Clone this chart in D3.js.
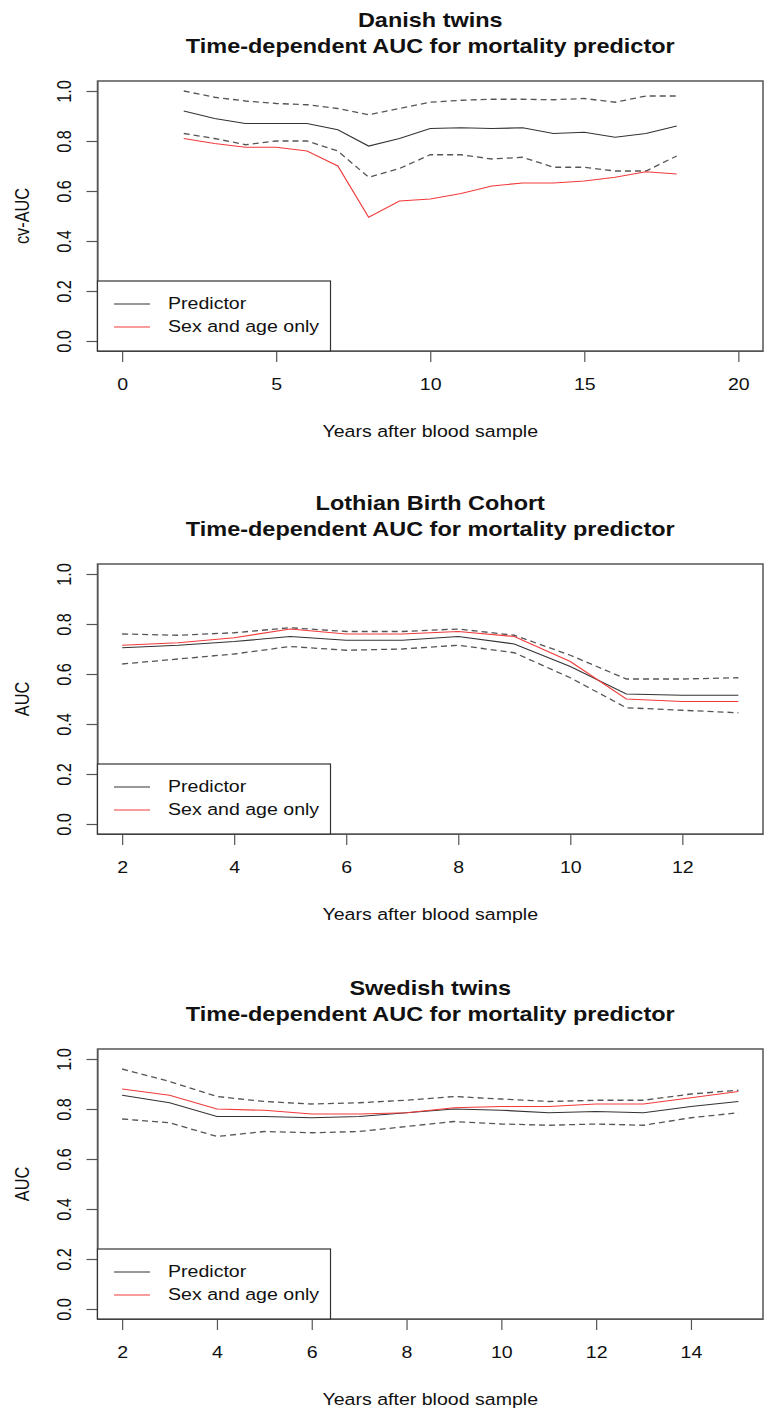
<!DOCTYPE html>
<html>
<head>
<meta charset="utf-8">
<script src="https://cdn.jsdelivr.net/npm/d3@7/dist/d3.min.js"></script>
<style>
  html, body { margin: 0; padding: 0; background: #fff; }
  svg { display: block; }
  text { font-family: "Liberation Sans", Arial, Helvetica, sans-serif; fill: #111; }
</style>
</head>
<body>
<svg id="chart" width="773" height="1418"></svg>
<script>
// ---------------- DATA ----------------
const seriesNames = ["Predictor", "Sex and age only"];
const yTicks = [0, 0.2, 0.4, 0.6, 0.8, 1.0];

// Danish twins
const danishTitle = ["Danish twins", "Time-dependent AUC for mortality predictor"];
const danishYLabel = "cv-AUC";
const danishXLim = [0, 20];
const danishXTicks = [0, 5, 10, 15, 20];
const danishYears = [2, 3, 4, 5, 6, 7, 8, 9, 10, 11, 12, 13, 14, 15, 16, 17, 18];
const danishPred  = [0.92, 0.89, 0.87, 0.87, 0.87, 0.845, 0.78, 0.81, 0.85, 0.853, 0.85, 0.853, 0.83, 0.835, 0.815, 0.83, 0.86];
const danishUpper = [1.00, 0.975, 0.96, 0.95, 0.945, 0.93, 0.905, 0.93, 0.955, 0.963, 0.967, 0.967, 0.965, 0.97, 0.955, 0.98, 0.98];
const danishLower = [0.83, 0.81, 0.785, 0.80, 0.80, 0.76, 0.655, 0.69, 0.745, 0.745, 0.728, 0.735, 0.695, 0.695, 0.68, 0.68, 0.74];
const danishSexAge = [0.81, 0.79, 0.775, 0.775, 0.76, 0.70, 0.495, 0.56, 0.568, 0.59, 0.62, 0.632, 0.632, 0.64, 0.655, 0.677, 0.668];

// Lothian Birth Cohort
const lothianTitle = ["Lothian Birth Cohort", "Time-dependent AUC for mortality predictor"];
const lothianYLabel = "AUC";
const lothianXLim = [2, 13];
const lothianXTicks = [2, 4, 6, 8, 10, 12];
const lothianYears = [2, 3, 4, 5, 6, 7, 8, 9, 10, 11, 12, 13];
const lothianPred  = [0.705, 0.715, 0.73, 0.75, 0.735, 0.735, 0.75, 0.72, 0.63, 0.52, 0.515, 0.515];
const lothianUpper = [0.76, 0.755, 0.765, 0.785, 0.77, 0.77, 0.78, 0.755, 0.675, 0.58, 0.58, 0.585];
const lothianLower = [0.64, 0.66, 0.68, 0.71, 0.695, 0.70, 0.715, 0.685, 0.585, 0.465, 0.455, 0.445];
const lothianSexAge = [0.715, 0.725, 0.745, 0.78, 0.76, 0.76, 0.77, 0.75, 0.65, 0.50, 0.49, 0.49];

// Swedish twins
const swedishTitle = ["Swedish twins", "Time-dependent AUC for mortality predictor"];
const swedishYLabel = "AUC";
const swedishXLim = [2, 15];
const swedishXTicks = [2, 4, 6, 8, 10, 12, 14];
const swedishYears = [2, 3, 4, 5, 6, 7, 8, 9, 10, 11, 12, 13, 14, 15];
const swedishPred  = [0.855, 0.825, 0.77, 0.77, 0.765, 0.77, 0.785, 0.80, 0.795, 0.785, 0.79, 0.785, 0.81, 0.83];
const swedishUpper = [0.96, 0.91, 0.85, 0.83, 0.82, 0.825, 0.835, 0.85, 0.84, 0.83, 0.835, 0.835, 0.86, 0.875];
const swedishLower = [0.76, 0.745, 0.69, 0.71, 0.705, 0.71, 0.73, 0.75, 0.74, 0.735, 0.74, 0.735, 0.765, 0.785];
const swedishSexAge = [0.88, 0.855, 0.80, 0.795, 0.78, 0.78, 0.785, 0.805, 0.81, 0.81, 0.82, 0.82, 0.845, 0.87];

const xLabel = "Years after blood sample";

// ---------------- LAYOUT ----------------
const svg = d3.select("#chart");
const boxLeft = 97.5, boxRight = 763, boxH = 270;
const panelTops = [81, 564, 1049];
const FS = 16.3, SX = 1.2;       // font size and horizontal stretch
const colDark = "#333", colDash = "#555", colRed = "#f23a3a";

const panels = [
  {title: danishTitle, ylab: danishYLabel, xlim: danishXLim, xticks: danishXTicks, years: danishYears,
   pred: danishPred, up: danishUpper, lo: danishLower, sa: danishSexAge},
  {title: lothianTitle, ylab: lothianYLabel, xlim: lothianXLim, xticks: lothianXTicks, years: lothianYears,
   pred: lothianPred, up: lothianUpper, lo: lothianLower, sa: lothianSexAge},
  {title: swedishTitle, ylab: swedishYLabel, xlim: swedishXLim, xticks: swedishXTicks, years: swedishYears,
   pred: swedishPred, up: swedishUpper, lo: swedishLower, sa: swedishSexAge}
];

function hText(g, x, y, str, opts = {}) {
  return g.append("text")
    .attr("transform", `translate(${x},${y}) scale(${SX},1)`)
    .attr("text-anchor", opts.anchor || "middle")
    .attr("dominant-baseline", "central")
    .style("font-size", (opts.size || FS) + "px")
    .style("font-weight", opts.weight || "normal")
    .text(str);
}

panels.forEach((p, i) => {
  const top = panelTops[i], bottom = top + boxH;
  const g = svg.append("g");
  const ext = 0.04 * (p.xlim[1] - p.xlim[0]);
  const x = d3.scaleLinear().domain([p.xlim[0] - ext, p.xlim[1] + ext]).range([boxLeft, boxRight]);
  const y = d3.scaleLinear().domain([-0.04, 1.04]).range([bottom, top]);

  // Titles
  hText(g, (boxLeft + boxRight) / 2, top - 61, p.title[0], {size: FS * 1.2, weight: "bold"});
  hText(g, (boxLeft + boxRight) / 2, top - 35, p.title[1], {size: FS * 1.2, weight: "bold"});

  // X axis
  const xa = g.append("g").attr("transform", `translate(0,${bottom})`)
    .call(d3.axisBottom(x).tickValues(p.xticks).tickSize(11).tickSizeOuter(0).tickFormat(d3.format("d")));
  xa.selectAll("path.domain").attr("stroke", "#555").attr("stroke-width", 1);
  xa.selectAll(".tick line").attr("stroke", "#555").attr("stroke-width", 1.2);
  xa.selectAll(".tick text")
    .attr("y", null).attr("dy", null).attr("fill", "#111")
    .attr("dominant-baseline", "central")
    .attr("transform", `translate(0,34) scale(${SX},1)`)
    .style("font-size", FS + "px")
    .style("font-family", '"Liberation Sans", Arial, sans-serif');

  // Y axis
  const ya = g.append("g").attr("transform", `translate(${boxLeft},0)`)
    .call(d3.axisLeft(y).tickValues(yTicks).tickSize(11).tickSizeOuter(0).tickFormat(d3.format(".1f")));
  ya.selectAll("path.domain").attr("stroke", "#555").attr("stroke-width", 1);
  ya.selectAll(".tick line").attr("stroke", "#555").attr("stroke-width", 1.2);
  ya.selectAll(".tick text")
    .attr("x", null).attr("dy", null).attr("fill", "#111")
    .attr("text-anchor", "middle")
    .attr("dominant-baseline", "central")
    .attr("transform", `translate(-33,0) rotate(-90) scale(1,${SX})`)
    .style("font-size", FS + "px")
    .style("font-family", '"Liberation Sans", Arial, sans-serif');

  // Axis titles
  hText(g, (boxLeft + boxRight) / 2, bottom + 81, xLabel);
  g.append("text")
    .attr("transform", `translate(${boxLeft - 75},${(top + bottom) / 2}) rotate(-90) scale(1,${SX})`)
    .attr("text-anchor", "middle").attr("dominant-baseline", "central")
    .style("font-size", FS + "px")
    .text(p.ylab);

  // Lines
  const rows = p.years.map((yr, k) => ({yr, pred: p.pred[k], up: p.up[k], lo: p.lo[k], sa: p.sa[k]}));
  const mk = key => d3.line().x(d => x(d.yr)).y(d => y(d[key]));
  g.append("path").datum(rows).attr("d", mk("up")).attr("fill", "none")
    .attr("stroke", colDash).attr("stroke-width", 1.3).attr("stroke-dasharray", "6,4");
  g.append("path").datum(rows).attr("d", mk("lo")).attr("fill", "none")
    .attr("stroke", colDash).attr("stroke-width", 1.3).attr("stroke-dasharray", "6,4");
  g.append("path").datum(rows).attr("d", mk("pred")).attr("fill", "none")
    .attr("stroke", colDark).attr("stroke-width", 1.2);
  g.append("path").datum(rows).attr("d", mk("sa")).attr("fill", "none")
    .attr("stroke", colRed).attr("stroke-width", 1.2);

  // Box
  g.append("rect").attr("x", boxLeft).attr("y", top).attr("width", boxRight - boxLeft).attr("height", boxH)
    .attr("fill", "none").attr("stroke", "#555").attr("stroke-width", 1.5);

  // Legend (bottom-left)
  const lg = g.append("g");
  lg.append("rect").attr("x", boxLeft).attr("y", bottom - 70).attr("width", 233).attr("height", 70)
    .attr("fill", "#fff").attr("stroke", "#333").attr("stroke-width", 1.2);
  const legCols = [colDark, colRed];
  seriesNames.forEach((nm, k) => {
    const ly = bottom - 47 + k * 23;
    lg.append("line").attr("x1", 114).attr("x2", 150).attr("y1", ly).attr("y2", ly)
      .attr("stroke", legCols[k]).attr("stroke-width", 1.2);
    hText(lg, 168, ly, nm, {anchor: "start"});
  });
});
</script>
</body>
</html>
